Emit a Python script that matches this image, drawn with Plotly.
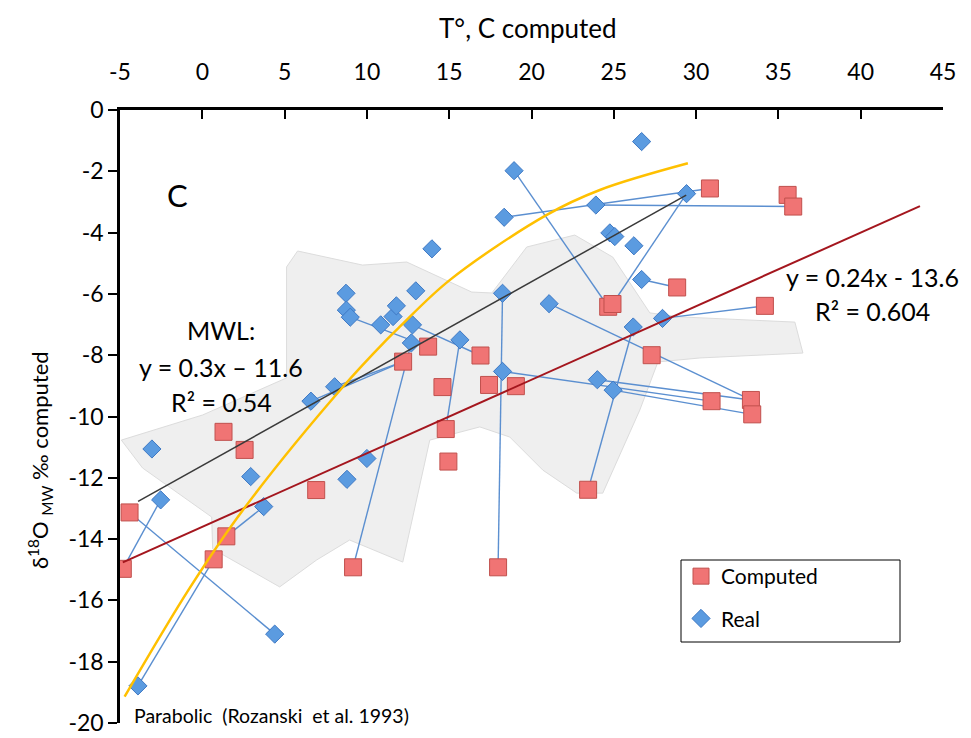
import plotly.graph_objects as go

# ---------------- data ----------------
# Computed δ18O of meteoric water vs computed temperature (red squares)
comp_t = [-4.83, -4.42, 0.69, 1.46, 1.29, 2.57, 6.92, 9.16, 12.2, 13.72,
          14.59, 14.79, 14.95, 16.9, 17.42, 19.05, 17.97, 23.44, 24.66, 24.92,
          27.3, 28.85, 30.84, 30.94, 33.33, 33.41, 34.18, 35.56, 35.9]
comp_d18o = [-14.97, -13.13, -14.66, -13.91, -10.5, -11.09, -12.4, -14.92, -8.21, -7.72,
             -9.04, -10.41, -11.47, -8.01, -8.97, -9.01, -14.92, -12.39, -6.42, -6.33,
             -8.0, -5.79, -2.56, -9.5, -9.46, -9.93, -6.39, -2.77, -3.15]

# Measured (real) values (blue diamonds)
real_t = [-3.91, 4.4, -3.06, -2.53, 2.94, 3.73, 6.6, 8.04, 8.79, 10.0,
          8.73, 8.75, 8.99, 10.84, 11.59, 11.79, 12.77, 12.7, 12.97, 13.95,
          15.65, 18.24, 18.24, 18.34, 18.94, 21.07, 23.91, 24.76, 25.06, 26.22,
          26.69, 26.69, 29.42, 24.0, 24.96, 26.18, 27.96]
real_d18o = [-18.79, -17.1, -11.06, -12.72, -11.96, -12.94, -9.5, -9.03, -12.05, -11.37,
             -5.98, -6.53, -6.76, -7.01, -6.74, -6.39, -7.01, -7.6, -5.9, -4.53,
             -7.5, -8.53, -5.98, -3.5, -1.98, -6.32, -3.1, -4.01, -4.13, -4.43,
             -5.53, -1.03, -2.73, -8.8, -9.14, -7.08, -6.8]

# site pairs: index into real_* and index into comp_*
link_real = [0, 1, 3, 5, 6, 7, 12, 16, 20, 17, 22, 21, 33, 34, 35, 25, 24, 23, 26, 32, 30, 36]
link_comp = [2, 1, 0, 3, 8, 8, 9, 13, 11, 7, 16, 23, 24, 25, 17, 24, 18, 22, 28, 19, 21, 26]

# grey envelope of the data cloud
env_t = [-4.92, 0.02, 5.12, 5.12, 5.79, 9.74, 12.42, 16.37, 17.59, 19.71,
         22.63, 24.94, 27.19, 29.01, 36.0, 36.49, 30.23, 27.68, 26.58, 24.33,
         22.75, 20.69, 18.68, 16.86, 13.82, 12.18, 8.95, 6.95, 4.7, 0.63,
         0.57, -3.63]
env_d18o = [-10.77, -9.95, -8.74, -5.12, -4.6, -5.06, -4.96, -5.94, -5.97, -4.47,
            -4.08, -4.8, -6.62, -6.75, -6.92, -7.93, -8.09, -8.22, -9.79, -12.5,
            -12.5, -11.75, -10.67, -10.34, -10.77, -14.75, -14.03, -14.68, -15.56, -14.32,
            -13.28, -11.68]

# parabolic relation (Rozanski et al. 1993)
para_t = [-4.72, -0.77, 2.47, 8.55, 11.19, 12.0, 15.03, 20.9, 24.15, 29.5]
para_d18o = [-19.14, -15.6, -13.05, -9.03, -7.5, -7.07, -5.55, -3.43, -2.61, -1.74]

# linear fits
mwl_slope, mwl_icpt = 0.3, -11.6
mwl_t = [-3.9, 29.4]
fit_slope, fit_icpt = 0.24, -13.6
fit_t = [-4.83, 43.6]

# axis ticks
x_ticks = [-5, 0, 5, 10, 15, 20, 25, 30, 35, 40, 45]
y_ticks = [0, -2, -4, -6, -8, -10, -12, -14, -16, -18, -20]

# ---------------- figure ----------------
FONT = "Lato"
W, H = 971, 738
L, R, T, B = 120, 28, 110, 15

fig = go.Figure()

fig.add_trace(go.Scatter(
    x=env_t + env_t[:1], y=env_d18o + env_d18o[:1], mode="lines",
    fill="toself", fillcolor="#EFEFEF", line=dict(color="#DCDCDC", width=1),
    hoverinfo="skip", showlegend=False))

lx, ly = [], []
for ri, ci in zip(link_real, link_comp):
    lx += [real_t[ri], comp_t[ci], None]
    ly += [real_d18o[ri], comp_d18o[ci], None]
fig.add_trace(go.Scatter(x=lx, y=ly, mode="lines",
                         line=dict(color="#5B8FD0", width=1.4),
                         hoverinfo="skip", showlegend=False))

fig.add_trace(go.Scatter(
    x=comp_t, y=comp_d18o, mode="markers", name="Computed", legendgroup="c",
    marker=dict(symbol="square", size=17, color="#F07474",
                line=dict(color="#C0504D", width=1))))
fig.add_trace(go.Scatter(
    x=real_t, y=real_d18o, mode="markers", name="Real", legendgroup="r",
    marker=dict(symbol="diamond", size=14, color="#5B9BE0",
                line=dict(color="#3F79C4", width=1))))

fig.add_trace(go.Scatter(
    x=mwl_t, y=[mwl_slope * t + mwl_icpt for t in mwl_t], mode="lines",
    line=dict(color="#3A3A3A", width=1.5), hoverinfo="skip", showlegend=False))
fig.add_trace(go.Scatter(
    x=fit_t, y=[fit_slope * t + fit_icpt for t in fit_t], mode="lines",
    line=dict(color="#A4161E", width=2), hoverinfo="skip", showlegend=False))
fig.add_trace(go.Scatter(
    x=para_t, y=para_d18o, mode="lines", line_shape="spline",
    line=dict(color="#FFC000", width=2.5), hoverinfo="skip", showlegend=False))


def px(xp):
    return (xp - L) / (W - L - R)


def py(yp):
    return (H - B - yp) / (H - T - B)


def label(text, x, y, size, **kw):
    d = dict(text=text, x=px(x), y=py(y), xref="paper", yref="paper",
             xanchor="center", yanchor="middle", showarrow=False,
             font=dict(size=size, color="black"))
    d.update(kw)
    return d


ann = [
    label("C", 177, 195, 31),
    label("MWL:", 221, 330, 25),
    label("y = 0.3x – 11.6", 221, 367, 25),
    label("R² = 0.54", 221, 402, 25),
    label("y = 0.24x - 13.6", 872, 277, 25),
    label("R² = 0.604", 872, 311, 25),
    label("Parabolic  (Rozanski  et al. 1993)", 132, 715, 19.5, xanchor="left"),
    label("T°, C computed", 528, 28, 26),
    label("δ<sup>18</sup>O <sub>MW</sub> ‰ computed", 40, 460, 22, textangle=-90),
]

fig.update_layout(
    width=W, height=H,
    margin=dict(l=L, r=R, t=T, b=B, pad=0),
    paper_bgcolor="white", plot_bgcolor="white",
    font=dict(family=FONT, color="black"),
    annotations=ann,
    shapes=[dict(type="rect", xref="paper", yref="paper",
                 x0=px(681), x1=px(900), y0=py(560), y1=py(642),
                 line=dict(color="black", width=1), fillcolor="white", layer="above")],
    legend=dict(x=px(681), y=py(556), xanchor="left", yanchor="top",
                borderwidth=0, bgcolor="rgba(0,0,0,0)",
                font=dict(size=21, color="black"), tracegroupgap=12),
    xaxis=dict(side="top", range=[-5, 45], automargin=False,
               tickvals=x_ticks, ticktext=[f"{v:g}" for v in x_ticks],
               showline=True, linecolor="black", linewidth=2.5,
               ticks="inside", ticklen=9, tickwidth=2, tickcolor="black",
               showgrid=False, zeroline=False, ticklabelstandoff=18,
               tickfont=dict(size=23)),
    yaxis=dict(range=[-20, 0], automargin=False,
               tickvals=y_ticks, ticktext=[f"{v:g}" for v in y_ticks],
               showline=True, linecolor="black", linewidth=2.5,
               ticks="outside", ticklen=9, tickwidth=2, tickcolor="black",
               showgrid=False, zeroline=False,
               tickfont=dict(size=23)),
)

fig.write_html("out.html")
